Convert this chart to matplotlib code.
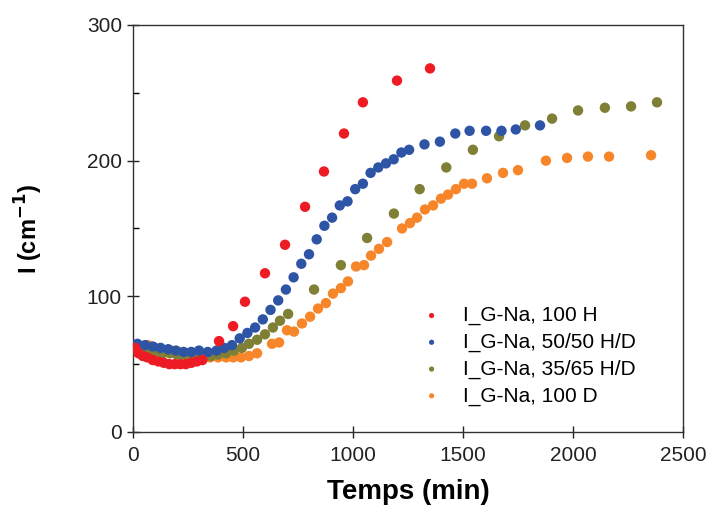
import numpy as np
import matplotlib
matplotlib.use('Agg')
from matplotlib import pyplot as plt
from matplotlib.ticker import MultipleLocator

plt.rcParams['font.family'] = ['Liberation Sans', 'DejaVu Sans']

# I_G-Na, 100 H
x_h = [10, 25, 45, 65, 90, 115, 140, 165, 190, 215, 240, 265, 290, 315,
       391, 455, 509, 600, 691, 782, 868, 959, 1045, 1200, 1350]
y_h = [62, 58, 56, 55, 53, 52, 51, 50, 50, 50, 50, 51, 52, 53,
       67, 78, 96, 117, 138, 166, 192, 220, 243, 259, 268]

# I_G-Na, 50/50 H/D
x_hd = [20, 55, 90, 125, 160, 195, 230, 265, 300, 340, 380, 415, 450, 485,
        520, 555, 590, 625, 660, 695, 730, 765, 800, 835, 870, 905, 940, 975,
        1010, 1045, 1080, 1115, 1150, 1185, 1220, 1255, 1325, 1395, 1465,
        1530, 1605, 1675, 1740, 1850]
y_hd = [65, 64, 63, 62, 61, 60, 59, 59, 60, 59, 60, 62, 64, 69,
        73, 77, 83, 90, 97, 105, 114, 124, 131, 142, 152, 158, 167, 170,
        179, 183, 191, 195, 198, 201, 206, 208, 212, 214, 220,
        222, 222, 222, 223, 226]

# I_G-Na, 35/65 H/D
x_35 = [20, 41, 70, 100, 135, 168, 200, 227, 255, 282, 320, 355, 386, 423,
        459, 495, 527, 564, 600, 636, 668, 705, 823, 945, 1064, 1186, 1303,
        1424, 1545, 1664, 1782, 1905, 2023, 2145, 2264, 2382]
y_35 = [64, 62, 60, 59, 58, 58, 57, 57, 56, 55, 55, 56, 57, 58,
        60, 62, 65, 68, 72, 77, 82, 87, 105, 123, 143, 161, 179,
        195, 208, 218, 226, 231, 237, 239, 240, 243]

# I_G-Na, 100 D
x_d = [68, 100, 136, 173, 209, 245, 277, 314, 350, 386, 423, 455, 491, 527,
       564, 632, 664, 700, 732, 768, 805, 841, 877, 909, 945, 977, 1014,
       1050, 1082, 1118, 1155, 1223, 1259, 1291, 1327, 1364, 1400, 1432,
       1468, 1505, 1541, 1609, 1682, 1750, 1877, 1973, 2068, 2164, 2355]
y_d = [64, 62, 60, 60, 59, 58, 57, 55, 55, 55, 55, 55, 55, 56,
       58, 65, 66, 75, 74, 80, 85, 91, 95, 102, 106, 111, 122,
       123, 130, 135, 140, 150, 154, 158, 164, 167, 172, 175,
       179, 183, 183, 187, 191, 193, 200, 202, 203, 203, 204]

labels = ['I_G-Na, 100 H', 'I_G-Na, 50/50 H/D', 'I_G-Na, 35/65 H/D', 'I_G-Na, 100 D']
colors = ['#ED1C24', '#2E55A5', '#7F7F35', '#F7862A']

fig = plt.figure(figsize=(7.09, 5.09), dpi=100)
ax = fig.add_axes([0.1876, 0.1513, 0.9633 - 0.1876, 0.9509 - 0.1513])

# draw in reverse so red sits on top like the original
data = [(x_h, y_h), (x_hd, y_hd), (x_35, y_35), (x_d, y_d)]
handles = [None] * 4
for i in [3, 2, 1, 0]:
    xs, ys = data[i]
    handles[i] = ax.scatter(xs, ys, s=56, color=colors[i], edgecolors='none',
                            label=labels[i], zorder=3)

ax.set_xlim(0, 2500)
ax.set_ylim(0, 300)
ax.xaxis.set_major_locator(MultipleLocator(500))
ax.yaxis.set_major_locator(MultipleLocator(100))
ax.yaxis.set_minor_locator(MultipleLocator(50))
ax.tick_params(which='major', direction='inout', length=8, width=1,
               labelsize=15, top=False, right=False, colors='#222222')
ax.tick_params(axis='x', which='major', pad=6)
ax.tick_params(axis='y', which='major', pad=4)
ax.tick_params(which='minor', axis='y', direction='in', length=4, width=1)
for sp in ax.spines.values():
    sp.set_linewidth(1)
    sp.set_color('#333333')

ax.set_xlabel('Temps (min)', fontsize=20, fontweight='bold', labelpad=10)
ax.set_ylabel('I (cm$^{\\mathbf{-1}}$)', fontsize=17, fontweight='bold', labelpad=30)

ax.legend(handles=handles, labels=labels, loc='upper left',
          bbox_to_anchor=(0.505, 0.33), frameon=False, fontsize=15,
          markerscale=0.5, handletextpad=0.9, labelspacing=0.36,
          borderaxespad=0, handlelength=1.2)

fig.savefig('out.png', dpi=100)
